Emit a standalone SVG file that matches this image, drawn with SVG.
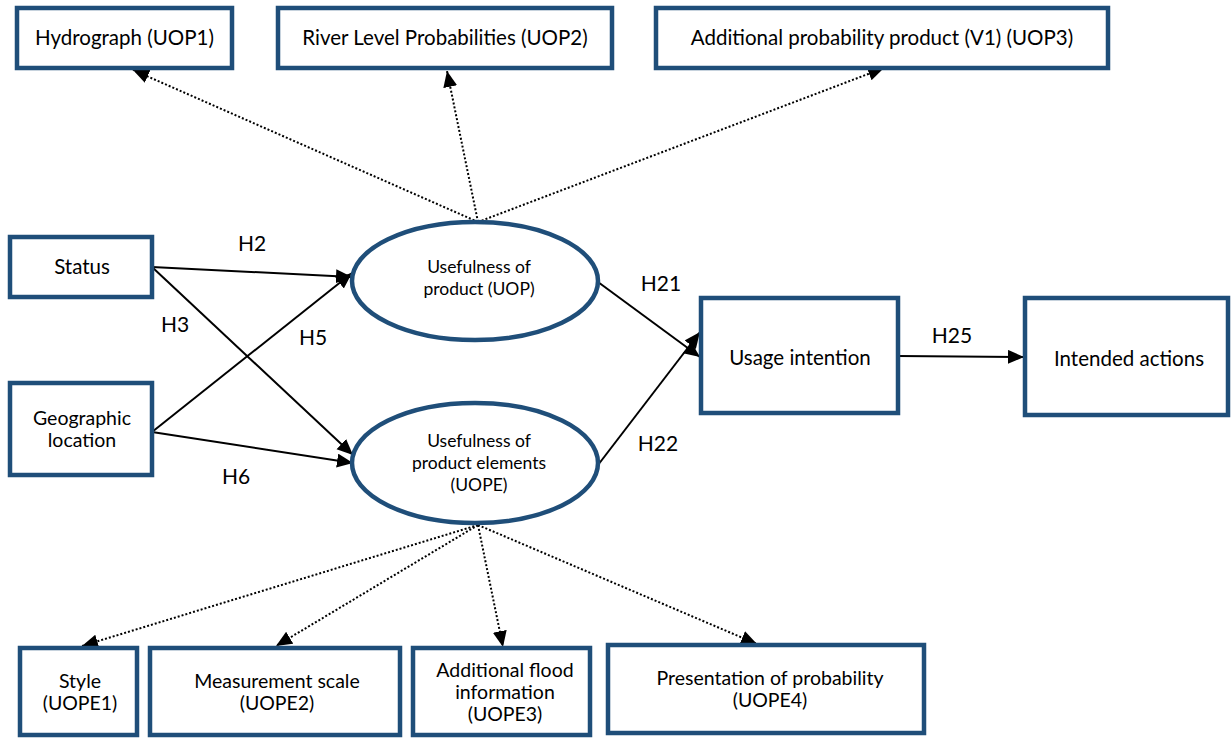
<svg xmlns="http://www.w3.org/2000/svg" width="1232" height="738" viewBox="0 0 1232 738">
  <defs>
    <marker id="arrow" markerUnits="userSpaceOnUse" markerWidth="17" markerHeight="15" refX="16" refY="7" orient="auto">
      <path d="M0,0 L16,7 L0,14 z" fill="#000"/>
    </marker>
    <style>
      .box { fill: #fff; stroke: #1F4E79; stroke-width: 4.5; }
      .oval { fill: #fff; stroke: #1F4E79; stroke-width: 4.5; }
      .lbl { font-family: Lato, "Open Sans", "Liberation Sans", sans-serif; font-size: 20.5px; fill: #000; text-anchor: middle; }
      .tight { font-family: Lato, "Open Sans", "Liberation Sans", sans-serif; font-size: 19.5px; fill: #000; text-anchor: middle; }
      .small { font-family: Lato, "Open Sans", "Liberation Sans", sans-serif; font-size: 17.5px; fill: #000; text-anchor: middle; }
      .h { font-family: Lato, "Open Sans", "Liberation Sans", sans-serif; font-size: 21px; fill: #000; text-anchor: middle; }
      .solid { stroke: #000; stroke-width: 2; fill: none; marker-end: url(#arrow); }
      .dot { stroke: #000; stroke-width: 2; stroke-dasharray: 2 2; fill: none; marker-end: url(#arrow); }
    </style>
  </defs>
  <rect width="1232" height="738" fill="#fff"/>

  <!-- connectors -->
  <g id="connectors">
    <line class="dot" x1="478" y1="222" x2="133" y2="70"/>
    <line class="dot" x1="478" y1="222" x2="447" y2="71"/>
    <line class="dot" x1="478" y1="222" x2="884" y2="68"/>
    <line class="dot" x1="478" y1="525" x2="82" y2="646"/>
    <line class="dot" x1="478" y1="525" x2="276" y2="646"/>
    <line class="dot" x1="478" y1="525" x2="503" y2="647"/>
    <line class="dot" x1="478" y1="525" x2="757" y2="644"/>
    <line class="solid" x1="152" y1="267" x2="352" y2="277"/>
    <line class="solid" x1="152" y1="267" x2="353" y2="455"/>
    <line class="solid" x1="152" y1="432" x2="352" y2="273"/>
    <line class="solid" x1="152" y1="432" x2="353" y2="463"/>
    <line class="solid" x1="598" y1="282" x2="700" y2="357"/>
    <line class="solid" x1="598" y1="465" x2="700" y2="332"/>
    <line class="solid" x1="898" y1="356" x2="1024" y2="357"/>
    <text class="h" x="252" y="251">H2</text>
    <text class="h" x="175" y="332">H3</text>
    <text class="h" x="313" y="345">H5</text>
    <text class="h" x="236" y="484">H6</text>
    <text class="h" x="661" y="291">H21</text>
    <text class="h" x="658" y="451">H22</text>
    <text class="h" x="952" y="343">H25</text>
  </g>

  <g id="uop1">
    <rect class="box" x="17" y="8" width="215" height="60"/>
    <text class="lbl" x="124.5" y="45">Hydrograph (UOP1)</text>
  </g>
  <g id="uop2">
    <rect class="box" x="278" y="8" width="334" height="60"/>
    <text class="lbl" x="445" y="45">River Level Probabilities (UOP2)</text>
  </g>
  <g id="uop3">
    <rect class="box" x="656" y="8" width="452" height="60"/>
    <text class="lbl" x="882" y="45">Additional probability product (V1) (UOP3)</text>
  </g>

  <g id="status">
    <rect class="box" x="10" y="237" width="142" height="60"/>
    <text class="lbl" x="82" y="274">Status</text>
  </g>
  <g id="geo">
    <rect class="box" x="10" y="383" width="142" height="92"/>
    <text class="tight" x="82" y="425">Geographic</text>
    <text class="tight" x="82" y="447">location</text>
  </g>

  <g id="uop">
    <ellipse class="oval" cx="475" cy="281" rx="123" ry="59"/>
    <text class="small" x="479" y="273">Usefulness of</text>
    <text class="small" x="479" y="295">product (UOP)</text>
  </g>
  <g id="uope">
    <ellipse class="oval" cx="475" cy="463" rx="123" ry="60"/>
    <text class="small" x="479" y="447">Usefulness of</text>
    <text class="small" x="479" y="469">product elements</text>
    <text class="small" x="479" y="491">(UOPE)</text>
  </g>

  <g id="usage">
    <rect class="box" x="701" y="298" width="197" height="115"/>
    <text class="lbl" x="800" y="365">Usage intention</text>
  </g>
  <g id="actions">
    <rect class="box" x="1025" y="298" width="203" height="117"/>
    <text class="lbl" x="1129" y="366">Intended actions</text>
  </g>

  <g id="uope1">
    <rect class="box" x="20" y="648" width="117" height="87"/>
    <text class="tight" x="80" y="688">Style</text>
    <text class="tight" x="80" y="710">(UOPE1)</text>
  </g>
  <g id="uope2">
    <rect class="box" x="150" y="648" width="250" height="87"/>
    <text class="tight" x="277" y="688">Measurement scale</text>
    <text class="tight" x="277" y="710">(UOPE2)</text>
  </g>
  <g id="uope3">
    <rect class="box" x="413" y="648" width="177" height="87"/>
    <text class="tight" x="505" y="677">Additional flood</text>
    <text class="tight" x="505" y="699">information</text>
    <text class="tight" x="505" y="721">(UOPE3)</text>
  </g>
  <g id="uope4">
    <rect class="box" x="608" y="645" width="316" height="88"/>
    <text class="tight" x="770" y="685">Presentation of probability</text>
    <text class="tight" x="770" y="707">(UOPE4)</text>
  </g>
</svg>
